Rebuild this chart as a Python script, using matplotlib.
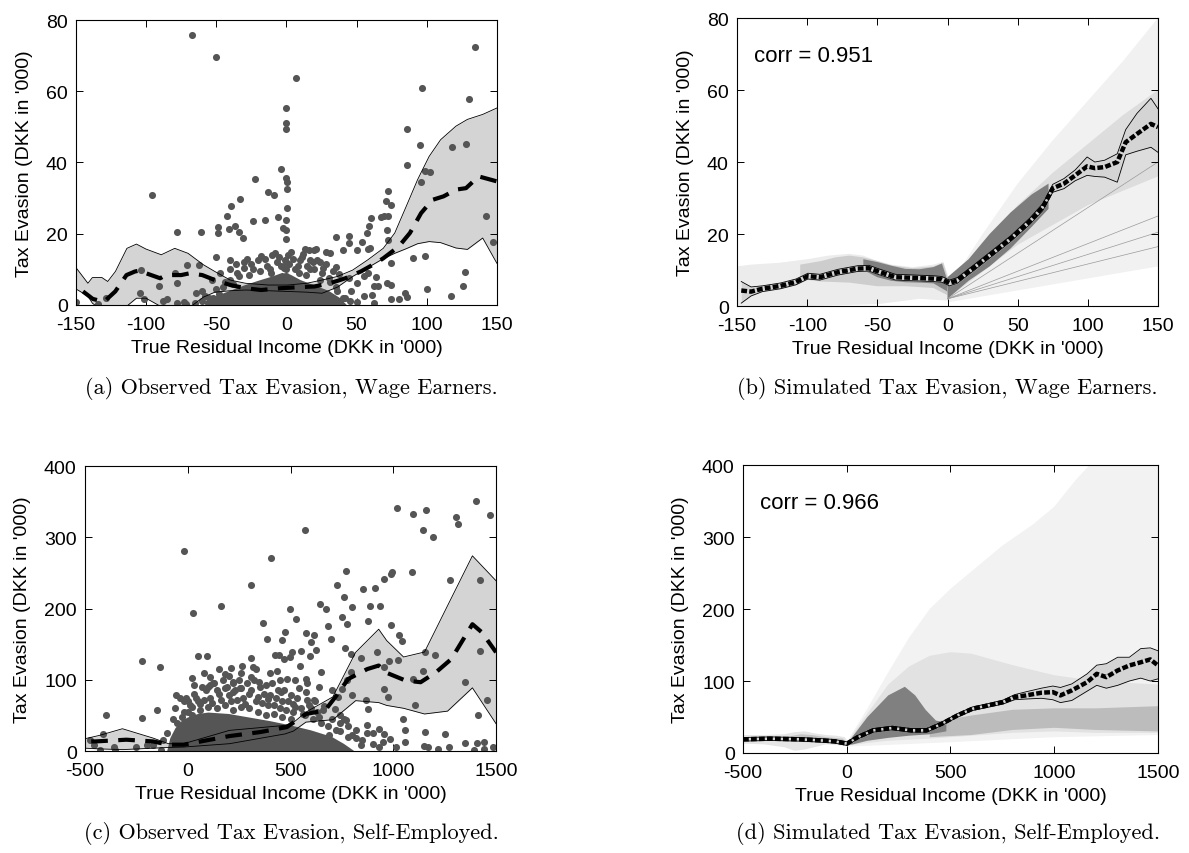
import matplotlib
matplotlib.use("Agg")
import matplotlib.pyplot as plt

plt.rcParams['font.family'] = ['Liberation Sans', 'DejaVu Sans']

# ---------------- (a) observed, wage earners ----------------
a_band_x = [-150, -141.5, -138.3, -131.5, -127.4, -121.9, -113.7, -106.9, -100.1, -89.2, -79.6, -70.1,
            -59.2, -51, -40.1, -29.2, -12.8, 0.8, 14.5, 25.4, 36.3, 47.2, 58.1, 69, 77.2, 85.4,
            93.5, 101.7, 109.9, 120.8, 129, 139.9, 150]
a_upper = [10.5, 6.1, 7.7, 7.7, 6.6, 9.4, 15.9, 17.1, 15.7, 14.1, 15.9, 14.5,
           11.3, 9.4, 7.0, 6.1, 5.6, 5.6, 6.1, 7.0, 8.0, 9.8, 12.7, 15.9, 20.2, 27.7,
           35.2, 41.7, 46.4, 50.2, 52.1, 53.5, 55.3]
a_lower = [4.5, 2.5, 0.5, -1.5, -2, -1.5, -0.3, 1.9, 1.9, -0.5, -1.5, -1,
           2.2, 3.6, 4.0, 4.2, 4.0, 3.8, 3.6, 3.3, 5.0, 8.0, 10.5, 13.0, 14.5, 15.8,
           17.2, 17.8, 17.5, 16.0, 15.6, 18.8, 11.7]
a_mean_x = [-145, -138, -130, -122, -114, -108, -103, -100, -90, -86, -75, -69, -60, -51, -40, -29,
            -18, -4.6, 9, 20, 31, 42, 53, 63.5, 69, 80, 88, 96, 104, 112, 121, 128, 137, 150]
a_mean = [3.8, 1.7, 0.9, 3.8, 8.4, 9.4, 9.8, 8.9, 7.5, 8.4, 8.4, 8.9, 8.4, 7.0, 5.6, 4.7,
          4.2, 4.7, 5.0, 5.2, 6.1, 7.5, 9.4, 11.7, 13.1, 16.4, 20.2, 25.8, 29.5, 30.5, 32.4, 32.8, 36.1, 34.7]
a_x = [-67.4, -50.5, 6.8, -0.5, -0.5, -0.5, -96, 86.2, 86.2, 95, 96.3, 134.5, 130, 128, 118, 99, 102.5,
       95.7, 142, 147.5, 127, 126, 117.6, 100, 99, 90, 84.5, 86, 80, 74.5, 74.5, 71.7, 74.5, 72.5,
       71.7, 72.5, 69.6, 67.3, 72.5, 71.2, 74.5, 60.3, 59, 57.6, 54, 44.5, 44.5, 40.4, 35, 50, 58, 59.5,
       -4, -0.5, 0.3, 0.3, 0.3, -0.5, -0.5, -2.7, -0.5, -12.8, -9.2, -22.4, -33.3, -39.6, -42.3, -49.1,
       -49.1, -40.6, -36.8, -33.8, -31.1, -61.1, -77.7, -23.7, -15.5, -6, -50.2, -62, -70.6, -79.6,
       -90.5, -78.3, -103.4, -104.7, -101.5, -128.7, -134.2, -150, -78.3, -71.5, -85.1, -64.6, -55,
       21.3, 13.1, 28, 30.8, 35, 37.6, 44.5, 50, 55.4, 62.2, 63.5, 60.8, 62.7, 45.9, 41.7, 58, 65,
       -45, -40, -35, -30, -25, -20, -15, -10, -5, 5, 10, 15, 20, 25, 30, 35, -48, 40, 45, -60, -65,
       -40, -28, -18, -8, 3, 12, 22, 8, -2, -12, 28, 33, -52, -56, 50, 55, -88, -73, -58, 17, 24,
       -50, -44, -38, -34, -27, -24, -19, -14, -11, -7, -4, -1, 1, 2, 6, 9, 11, 14, 17, 19, 24, 26,
       31, 36, -46, -33, -20, 0, 20, 30, -60, -30, 16, 20, -40, -36, -53, -47, 0, 0, 0, 0]
a_y = [75.8, 69.6, 63.8, 55.3, 51.1, 49.4, 30.8, 49.5, 39.2, 45, 61, 72.5, 57.7, 45.2, 44.3, 37.7, 37.2,
       34.4, 24.9, 17.6, 9.2, 5.4, 2.5, 4.4, 13.8, 13.1, 3.5, 2.3, 1.7, 1.7, 5.6, 6.1, 11.7, 18.3,
       21.1, 24.9, 24.9, 24.7, 31.9, 29.3, 28, 24.4, 22.2, 20.2, 17.6, 19.4, 17.4, 15.3, 19, 15.3, 15.7, 16,
       38.3, 35.6, 34.4, 32.6, 27.2, 23.9, 21.1, 21.6, 18.5, 31.7, 31, 35.5, 29.7, 27.9, 25, 22,
       20.2, 21.3, 22.3, 20.6, 18.8, 20.4, 20.4, 23.5, 23.9, 24.7, 13.6, 11.3, 11.1, 8.9,
       5.2, 6.1, 9.7, 3.5, 1.6, 2.1, 0.3, 0.8, 0.5, 0.3, 1.7, 3.3, 2.1,
       15.7, 15.7, 14.8, 14.5, 10.8, 8.6, 7.5, 6.1, 8, 5.2, 7.8, 2.8, 0.5, 4, 1.9, 8.9, 5.2,
       5, 7, 9, 10.5, 11.5, 12.5, 13, 14, 13.5, 13, 12.5, 11, 10, 9, 7.5, 5, 3, 2, 1, 1, 0.5,
       10, 13, 13.8, 14.6, 15, 14.2, 12.5, 11, 10.5, 10, 11.5, 9.5, 2, 0.5, 0.8, 2.5, 1.2, 0.8, 2.5, 12.5, 12,
       4.5, 6.5, 6, 8, 8.5, 10, 9.5, 11, 9, 12, 11, 12.5, 14, 11.5, 10, 9, 13.5, 8.5, 10, 12, 7, 10.5,
       6.5, 4, 1, 3, 2, 1, 1, 2, 4, 12, 15.5, 15.5, 12.5, 11.5, 7, 9, 6, 8, 10, 12]
a_blob_x = [-57, -50, -40, -30, -20, -10, -3, 3, 10, 20, 30, 38, 43]
a_blob_y = [0, 2.5, 4, 5.5, 6.8, 8, 9, 8.5, 7, 5.5, 4, 2, 0]

# ---------------- (b) simulated, wage earners ----------------
b_mean_x = [-147, -140, -132, -119, -108, -99.5, -91, -78, -64, -56, -48, -37, -23, -10, -4, 1.4, 7,
            18, 31.4, 45, 58.6, 68, 75, 83, 91, 99.5, 105, 112, 121, 127, 135, 145, 150]
b_mean = [4.3, 4.0, 4.8, 5.6, 6.7, 8.3, 8.0, 9.4, 10.4, 10.5, 9.4, 8.0, 7.8, 7.6, 7.4, 6.4, 7.1,
          10.4, 14.5, 18.7, 23.5, 27.5, 32.7, 34.0, 36.3, 38.8, 38.3, 38.6, 40.0, 45.5, 47.8, 50.6, 49.7]
b_upper = [6.8, 5.3, 5.6, 6.4, 7.5, 9.1, 8.8, 10.2, 11.2, 11.3, 10.2, 8.8, 8.6, 8.4, 8.2, 7.2, 7.9,
           11.2, 15.3, 19.5, 24.4, 28.5, 33.8, 35.4, 37.8, 41.4, 40.0, 40.5, 42.3, 49.0, 53.5, 57.7, 54.8]
b_lower = [0.8, 2.8, 4.0, 4.8, 5.9, 7.5, 7.2, 8.6, 9.6, 9.7, 8.6, 7.2, 7.0, 6.8, 6.6, 5.6, 6.3,
           9.6, 13.7, 17.9, 22.6, 26.5, 31.6, 32.6, 34.8, 36.3, 36.0, 35.8, 34.4, 42.0, 43.0, 44.1, 42.7]
b_cloud_left_x = [-150, -140, -120, -100, -85, -70, -60, -50, -40, -25, -10, -3, 0, 2,
                  2, 0, -20, -50, -100, -150]
b_cloud_left_y = [11, 11.5, 12, 13, 14, 14.5, 14, 12.5, 11.5, 10.8, 11.5, 12.3, 9, 5,
                  1, 1.5, 2, 0.5, 0, 0]
b_mid_left_x = [-105, -90, -80, -70, -60, -50, -40, -25, -10, -3, 0, 0, -10, -30, -50, -70, -90, -105]
b_mid_left_y = [11.5, 12.5, 13.5, 14, 13.5, 12.5, 11.3, 10.5, 11, 12, 8, 3, 5, 5.5, 5.5, 6.5, 6.8, 7.5]
b_core_left_x = [-60, -50, -40, -30, -20, -10, -4, 0, 1, 0, -10, -20, -30, -40, -50, -60]
b_core_left_y = [13, 12.2, 11.2, 10.3, 10.2, 10.8, 11.8, 7, 2, 4, 6.3, 6.5, 6.6, 7, 8, 10]
b_fan_x = [0, 5, 25, 50, 75, 100, 125, 150, 150, 0]
b_fan_y = [6, 8, 20, 34, 46, 57, 68, 80, 11, 1]
b_fan_mid_x = [0, 25, 50, 75, 100, 125, 150, 150, 100, 50, 0]
b_fan_mid_y = [5, 17, 28, 37, 45, 53, 60, 36, 28, 17, 2]
b_fan_core_x = [0, 15, 30, 45, 60, 72, 72, 60, 45, 30, 15, 0]
b_fan_core_y = [8, 13, 20, 26, 31, 34, 27, 22, 16, 11, 7, 2]
b_ray_end = [40, 25, 20.5, 16.5]

# ---------------- (c) observed, self-employed ----------------
c_band_x = [-500, -429, -318, -169, -94, -20, 203, 473, 514, 575, 706, 817, 929, 968, 1050, 1152,
            1264, 1385, 1500]
c_upper = [17.3, 22, 31.3, 18.2, 10.3, 10.3, 29, 36, 40, 54.6, 76, 138.6, 171, 155, 132, 139,
           204, 274, 239]
c_lower = [4, 3, 2, 4, 5, 5.6, 10.3, 24, 28, 40.6, 44, 70.7, 68, 64, 60, 52,
           56, 88.7, 38.3]
c_mean_x = [-470, -448, -299, -169, -94, -20, 92, 203, 352, 482, 575, 668, 724, 780, 873, 929, 966,
            1059, 1133, 1208, 1282, 1385, 1431, 1500]
c_mean = [13.5, 13.5, 15.9, 13.5, 8.9, 8.9, 15, 21, 26.6, 33.6, 52, 57, 78, 101, 115, 120, 110,
          99, 96.6, 110.6, 129, 178, 166.6, 138.6]
c_x = [-20, 26.5, 404, 305.6, 160.5, 570, 1016, 1096, 1158, 1143, 1195, 1306, 1314, 1403, 1472, 1422,
       1277, 1091, 994, 988, 957, 854, 910, 886, 934, 799, 771, 728, 761, 752, 644, 672, 681, 696, 767,
       776, 879, 988, 1027, 1040, 1022, 1096, 1143, 1204, 1152, 1422, 1454, 1351, 1413, 1407, 1440,
       1440, 1351, 1254, 1152, 1106, 1046, 1059, 1059, 1013, 985, 953, 929, 873, 879, 866, 953, 972,
       957, 979, 919, 841, 795, 793, 775, 752, 730, 799, 715, 743, 771, 817, 687, 613, 1171, 1217, 1273,
       1394, 1487, 1147, 929, 845,
       -398, -225, -137, -150, -221, -360, -476, -457, -411, -355, -429, -169, -132,
       -57, -11, 21, 49, 92, 107, 110, 123, 179, 209, 218, 264, 309, 318, 346, 309, 255, 218, 367, 384,
       426, 445, 473, 495, 460, 469, 497, 506, 529, 551, 575, 598, 613, 594, 622, 547, 482, 454, 389,
       510, 575, 646, 575, 613, 665, 436,
       -60, -40, -20, 10, 30, 50, 70, 90, 110, 130, 150, 170, 190, 210, 230, 250, 270, 290, 310, 330,
       350, 370, 390, 410, 430, 450, 470, 490, 510, 530, 550, 570, 590, 610, 630, 650, 680, 720, 0, 20,
       60, 100, 140, 180, 220, 260, 300, 340, 380, 420, 460, 500, -30, -70, -100, -120, -200, -250,
       850, 900, 870, 800, 780, 760, 740,
       -50, -20, 0, 20, 40, 60, 80, 100, 120, 140, 160, 180, 200, 220, 240, 260, 280, 300, 320, 340,
       360, 380, 400, 420, 440, 460, 480, 500, 520, 540, 560, 580, 600, 620, 640, 660, 700, 740, 780,
       820, 900, 950, 30, 80, 150, 200, 260, 330, 400, 450, 520, 580, 640, 700]
c_y = [281, 193.7, 271.6, 233, 204, 310, 340.7, 333, 338, 310, 300.5, 328.5, 319, 351, 331, 239.4,
       240, 250.6, 250.6, 248, 241, 228, 228.7, 204, 203, 202.5, 253, 233, 215.6, 188.5, 206, 200, 176,
       157, 144, 178, 183, 177, 163, 155, 128, 101, 112, 135, 138.6, 141, 71, 96.6, 50, 11.7, 12.6, 3.3,
       11.7, 24.3, 26.6, 65, 45, 29, 12.6, 5.6, 17.3, 24.3, 31.3, 36.9, 59, 71, 87, 75.6, 117.6, 126,
       138.6, 130, 136, 110.6, 100, 87, 76.5, 78, 59, 50, 43, 18.2, 22, 17.3, 5.6, 3.3, 5.6, 1, 5.6, 7,
       5.6, 8,
       51, 126, 117.6, 58, 46.7, 5.6, 15.9, 8, 23.8, 2, 2, 8, 1,
       78, 74, 102, 133, 133, 103.6, 92, 95, 108, 116, 96.6, 120, 130, 117.6, 97.5, 104.5, 88.7, 83.5,
       180, 157, 135, 135, 166.6, 200, 156, 129, 132.5, 138.6, 185, 140, 165, 153.5, 163, 134, 142, 119,
       101, 83.5, 73, 66, 101, 111.5, 82.6, 71, 63, 112,
       60, 75, 70, 65, 80, 70, 90, 85, 75, 95, 80, 100, 90, 70, 85, 100, 75, 95, 85, 70,
       90, 80, 65, 95, 75, 60, 85, 70, 55, 75, 60, 50, 65, 45, 55, 40, 35, 30, 55, 50,
       58, 62, 60, 65, 58, 62, 60, 55, 50, 52, 48, 45, 48, 45, 25, 15, 8, 5,
       15, 10, 25, 22, 35, 45, 28,
       40, 55, 70, 62, 75, 66, 72, 90, 68, 85, 72, 88, 78, 95, 72, 88, 66, 80, 100, 76,
       68, 92, 78, 65, 85, 70, 58, 78, 62, 88, 52, 72, 60, 70, 48, 58, 45, 40, 20,
       30, 25, 12, 92, 110, 115, 105, 110, 115, 110, 100, 100, 95, 90, 85]
c_blob_x = [-100, -85, -60, -30, 0, 50, 100, 200, 300, 400, 500, 600, 700, 760, 810]
c_blob_y = [0, 18, 32, 42, 47, 52, 54, 52, 47, 42, 36, 29, 20, 10, 0]

# ---------------- (d) simulated, self-employed ----------------
d_mean_x = [-500, -371, -224, -131, -58, 1, 53, 127, 219, 311, 385, 459, 532, 606, 680, 753, 809,
            864, 938, 993, 1030, 1085, 1159, 1205, 1251, 1306, 1362, 1417, 1463, 1500]
d_mean = [19, 19.9, 19, 17.6, 16.2, 13, 22, 31.4, 34.7, 31.4, 31.4, 40.7, 52, 61.5, 66, 70.7, 77.7,
          80, 83.7, 84.6, 80, 87, 98.5, 110, 105.4, 114.7, 121.6, 126, 130, 121.6]
d_upper = [21.5, 22.4, 21.5, 20.1, 18.7, 15.5, 24.5, 33.9, 37.2, 33.9, 33.9, 43.2, 54.5, 64, 68.5,
           73.5, 81, 85, 90, 93, 91, 96, 110, 122, 124, 133, 133, 145, 146, 142]
d_lower = [16.5, 17.4, 16.5, 15.1, 13.7, 10.5, 19.5, 28.9, 32.2, 28.9, 28.9, 38.2, 49.5, 59, 63.5,
           68, 74, 75, 76, 74, 70, 73, 86, 94, 90, 94, 100, 104, 100, 103]
d_cloud_left_x = [-500, -400, -300, -250, -200, -150, -100, -50, -10, 0, 0, -100, -200, -250, -300, -400, -500]
d_cloud_left_y = [25, 25, 26, 29, 30, 27, 25, 24, 22, 18, 10, 12, 5, 3, 8, 12, 13]
d_mid_left_x = [-500, -300, -220, -170, -100, -20, 0, 0, -100, -200, -300, -500]
d_mid_left_y = [22, 22, 26, 25, 22, 20, 15, 11, 15, 15, 17, 17]
d_fan_x = [0, 100, 200, 300, 400, 500, 600, 750, 900, 1000, 1100, 1170, 1500, 1500, 1000, 500, 100, 0]
d_fan_y = [15, 62, 112, 160, 200, 228, 252, 288, 318, 342, 378, 400, 400, 25, 22, 15, 10, 9]
d_fan_mid_x = [0, 100, 200, 300, 400, 500, 600, 700, 800, 900, 1000, 1200, 1500,
               1500, 1200, 1000, 800, 600, 400, 200, 100, 0]
d_fan_mid_y = [14, 55, 95, 120, 135, 140, 138, 130, 122, 115, 108, 100, 95,
               28, 28, 30, 28, 24, 20, 17, 14, 10]
d_fan_low_x = [400, 600, 800, 1000, 1200, 1500, 1500, 1200, 1000, 800, 600, 400]
d_fan_low_y = [42, 52, 60, 62, 62, 65, 30, 32, 35, 32, 25, 22]
d_fan_core_x = [5, 100, 200, 280, 330, 380, 430, 480, 480, 400, 300, 200, 100, 30, 5]
d_fan_core_y = [14, 50, 80, 92, 80, 60, 45, 42, 30, 26, 24, 21, 17, 12, 11]

captions = ["(a) Observed Tax Evasion, Wage Earners.",
            "(b) Simulated Tax Evasion, Wage Earners.",
            "(c) Observed Tax Evasion, Self-Employed.",
            "(d) Simulated Tax Evasion, Self-Employed."]
xlab = "True Residual Income (DKK in '000)"
ylab = "Tax Evasion (DKK in '000)"

DOT = '#555555'
BAND = '#d4d4d4'

fig = plt.figure(figsize=(11.89, 8.54), dpi=100)
ax_a = fig.add_axes([0.0639, 0.6417, 0.354, 0.3337])
ax_b = fig.add_axes([0.6199, 0.6405, 0.354, 0.3372])
ax_c = fig.add_axes([0.0715, 0.1194, 0.3457, 0.3337])
ax_d = fig.add_axes([0.6249, 0.1171, 0.349, 0.3372])


def style(ax, xlim, ylim, xt, yt):
    ax.set_xlim(*xlim)
    ax.set_ylim(*ylim)
    ax.set_xticks(xt)
    ax.set_yticks(yt)
    ax.tick_params(direction='in', top=True, right=True, length=5, width=0.7, labelsize=14)
    ax.tick_params(axis='x', pad=8)
    ax.tick_params(axis='y', pad=6)
    ax.set_xlabel(xlab, fontsize=14, labelpad=4)
    ax.set_ylabel(ylab, fontsize=14, labelpad=9)
    for s in ax.spines.values():
        s.set_linewidth(0.8)
    ax.xaxis.set_major_formatter(matplotlib.ticker.FuncFormatter(lambda v, p: '%d' % v))
    ax.yaxis.set_major_formatter(matplotlib.ticker.FuncFormatter(lambda v, p: '%d' % v))


# (a)
ax_a.fill_between(a_band_x, a_lower, a_upper, color=BAND, lw=0, zorder=1)
ax_a.fill(a_blob_x, a_blob_y, color=DOT, lw=0, zorder=2)
ax_a.scatter(a_x, a_y, s=26, color=DOT, lw=0, zorder=2)
ax_a.plot(a_band_x, a_upper, color='k', lw=0.6, zorder=3)
ax_a.plot(a_band_x, a_lower, color='k', lw=0.6, zorder=3)
ax_a.plot(a_mean_x, a_mean, color='k', lw=3, ls=(0, (4, 2.5)), zorder=4)
style(ax_a, (-150, 150), (0, 80), range(-150, 151, 50), range(0, 81, 20))

# (b)
for px, py, col in [(b_cloud_left_x, b_cloud_left_y, '#ececec'), (b_mid_left_x, b_mid_left_y, '#cdcdcd'),
                    (b_core_left_x, b_core_left_y, '#808080'), (b_fan_x, b_fan_y, '#f1f1f1'),
                    (b_fan_mid_x, b_fan_mid_y, '#dddddd'), (b_fan_core_x, b_fan_core_y, '#7d7d7d')]:
    ax_b.fill(px, py, color=col, lw=0, zorder=1)
for e in b_ray_end:
    ax_b.plot([0, 150], [2, e], color='#9a9a9a', lw=0.5, zorder=1)
ax_b.fill_between(b_mean_x, b_lower, b_upper, color=BAND, lw=0, zorder=2)
ax_b.plot(b_mean_x, b_upper, color='k', lw=0.6, zorder=3)
ax_b.plot(b_mean_x, b_lower, color='k', lw=0.6, zorder=3)
ax_b.plot(b_mean_x, b_mean, color='k', lw=3.2, ls=(0, (1.3, 0.5)), zorder=4)
ax_b.text(0.04, 0.87, 'corr = 0.951', transform=ax_b.transAxes, fontsize=16, va='center')
style(ax_b, (-150, 150), (0, 80), range(-150, 151, 50), range(0, 81, 20))

# (c)
ax_c.fill_between(c_band_x, c_lower, c_upper, color=BAND, lw=0, zorder=1)
ax_c.fill(c_blob_x, c_blob_y, color=DOT, lw=0, zorder=2)
ax_c.scatter(c_x, c_y, s=26, color=DOT, lw=0, zorder=2)
ax_c.plot(c_band_x, c_upper, color='k', lw=0.6, zorder=3)
ax_c.plot(c_band_x, c_lower, color='k', lw=0.6, zorder=3)
ax_c.plot(c_mean_x, c_mean, color='k', lw=3, ls=(0, (4, 2.5)), zorder=4)
style(ax_c, (-500, 1500), (0, 400), range(-500, 1501, 500), range(0, 401, 100))

# (d)
for px, py, col in [(d_cloud_left_x, d_cloud_left_y, '#e6e6e6'), (d_mid_left_x, d_mid_left_y, '#c4c4c4'),
                    (d_fan_x, d_fan_y, '#f2f2f2'), (d_fan_mid_x, d_fan_mid_y, '#e2e2e2'),
                    (d_fan_low_x, d_fan_low_y, '#bcbcbc'), (d_fan_core_x, d_fan_core_y, '#808080')]:
    ax_d.fill(px, py, color=col, lw=0, zorder=1)
ax_d.fill_between(d_mean_x, d_lower, d_upper, color=BAND, lw=0, zorder=2)
ax_d.plot(d_mean_x, d_upper, color='k', lw=0.6, zorder=3)
ax_d.plot(d_mean_x, d_lower, color='k', lw=0.6, zorder=3)
ax_d.plot(d_mean_x, d_mean, color='k', lw=3.2, ls=(0, (1.3, 0.5)), zorder=4)
ax_d.text(0.04, 0.87, 'corr = 0.966', transform=ax_d.transAxes, fontsize=16, va='center')
style(ax_d, (-500, 1500), (0, 400), range(-500, 1501, 500), range(0, 401, 100))

# captions
fig.text(0.245, 1 - 388 / 854, captions[0], fontsize=16, family='cmr10', ha='center', va='center')
fig.text(0.797, 1 - 388 / 854, captions[1], fontsize=16, family='cmr10', ha='center', va='center')
fig.text(0.245, 1 - 834 / 854, captions[2], fontsize=16, family='cmr10', ha='center', va='center')
fig.text(0.797, 1 - 834 / 854, captions[3], fontsize=16, family='cmr10', ha='center', va='center')

fig.savefig('out.png', dpi=100)
